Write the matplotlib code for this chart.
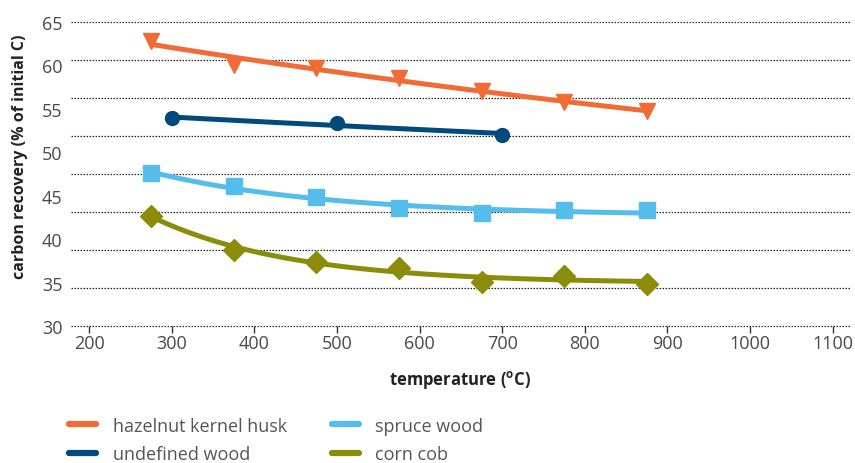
import numpy as np
import matplotlib
matplotlib.use("Agg")
import matplotlib.pyplot as plt
from matplotlib.lines import Line2D

plt.rcParams['font.family'] = ['Open Sans', 'DejaVu Sans']

# ---- data ----
hazel_x = [275, 375, 475, 575, 675, 775, 875]
hazel_y = [62.85, 60.1, 59.7, 58.6, 57.1, 55.8, 54.7]

undef_x = [300, 500, 700]
undef_y = [53.9, 53.4, 52.0]

spruce_x = [275, 375, 475, 575, 675, 775, 875]
spruce_y = [47.6, 46.1, 44.9, 43.6, 43.0, 43.3, 43.3]

corn_x = [275, 375, 475, 575, 675, 775, 875]
corn_y = [42.7, 38.8, 37.4, 36.7, 35.1, 35.7, 34.85]

labels = ["hazelnut kernel husk", "undefined wood", "spruce wood", "corn cob"]
colors = ["#F26A35", "#004A7C", "#55BDEB", "#8A8C0A"]
markers = ["v", "o", "s", "D"]
msizes = [11.5, 10, 11, 11]

x_ticks = [200, 300, 400, 500, 600, 700, 800, 900, 1000, 1100]
y_ticks = [30, 35, 40, 45, 50, 55, 60, 65]


def trend(x, y):
    """least-squares trend y = a + b*exp(-x/tau), tau chosen by grid search"""
    x = np.asarray(x, float)
    y = np.asarray(y, float)
    best = None
    for tau in np.linspace(60, 3000, 600):
        A = np.column_stack([np.ones_like(x), np.exp(-x / tau)])
        coef, *_ = np.linalg.lstsq(A, y, rcond=None)
        r = np.sum((A @ coef - y) ** 2)
        if best is None or r < best[0]:
            best = (r, tau, coef)
    _, tau, coef = best
    xs = np.linspace(x.min(), x.max(), 200)
    return xs, coef[0] + coef[1] * np.exp(-xs / tau)


fig = plt.figure(figsize=(8.55, 4.64), dpi=100)
ax = fig.add_axes([71 / 855, 1 - 327 / 464, (850 - 71) / 855, (327 - 23) / 464])

series = [(hazel_x, hazel_y), (undef_x, undef_y), (spruce_x, spruce_y), (corn_x, corn_y)]
for (sx, sy), c, m, ms in zip(series, colors, markers, msizes):
    fx, fy = trend(sx, sy)
    ax.plot(fx, fy, color=c, lw=3.6, solid_capstyle='round', zorder=3)
    ax.plot(sx, sy, linestyle='none', marker=m, color=c, ms=ms, mec=c, zorder=4)

ax.set_xlim(178, 1121)
ax.set_ylim(30, 65)

ax.set_xticks(x_ticks)
ax.set_xticklabels([str(t) for t in x_ticks])
ax.set_yticks(y_ticks)
ax.set_yticklabels([str(t) for t in y_ticks])
for gy in np.linspace(30, 65, 9):
    ax.axhline(gy, linestyle=(0, (1.2, 1.2)), color='#222222', lw=0.9, clip_on=False, zorder=1)
ax.tick_params(axis='y', which='both', length=0, labelsize=13, labelcolor='#4a4a4a', pad=6)
ax.tick_params(axis='x', which='major', direction='out', length=5, width=1, color='#333333',
               labelsize=13, labelcolor='#4a4a4a', pad=1)

for s in ax.spines.values():
    s.set_visible(False)

ax.set_xlabel("temperature ($^{\\mathregular{o}}$C)", fontsize=12, fontweight='bold',
              color='#222222', labelpad=11)
ax.set_ylabel("carbon recovery (% of initial C)", fontsize=11.5, fontweight='bold',
              color='#222222')
ax.yaxis.set_label_coords(-0.055, 0.56)

handles = [Line2D([], [], color=c, lw=4.5, solid_capstyle='round') for c in colors]
fig.legend(handles, labels, ncol=2, loc='upper left', bbox_to_anchor=(0.081, 0.100),
           frameon=False, fontsize=13, handlelength=1.5, handletextpad=0.9,
           labelspacing=0.58, columnspacing=2.5, labelcolor='#555555',
           borderaxespad=0, borderpad=0)

fig.savefig("out.png", dpi=100)
